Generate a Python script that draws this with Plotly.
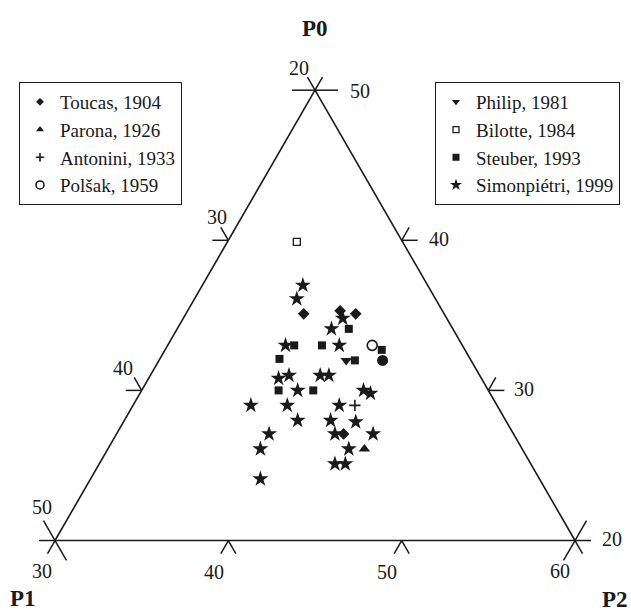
import math
import plotly.graph_objects as go

FIG_W, FIG_H = 631, 612
FONT = "Liberation Serif, Times New Roman, serif"
INK = "#1a1a1a"

# ---------------- data (P0, P1, P2 in %) ----------------
toucas_p0 = [35.1, 35.3, 35.1, 27.1]
toucas_p1 = [28.1, 25.9, 25.1, 29.8]
toucas_p2 = [36.8, 38.8, 39.8, 43.1]

parona_p0 = [26.1]
parona_p1 = [29.1]
parona_p2 = [44.8]

antonini_p0 = [29.0]
antonini_p1 = [28.2]
antonini_p2 = [42.8]

polsak_p0 = [33.0]
polsak_p1 = [25.2]
polsak_p2 = [41.8]

extra_p0 = [32.0]
extra_p1 = [25.1]
extra_p2 = [42.9]

philip_p0 = [32.0]
philip_p1 = [27.2]
philip_p2 = [40.8]

bilotte_p0 = [39.9]
bilotte_p1 = [26.1]
bilotte_p2 = [34.0]

steuber_p0 = [34.1, 33.0, 33.0, 32.7, 32.1, 32.0, 30.0, 30.0]
steuber_p1 = [26.0, 29.7, 28.1, 24.8, 31.0, 26.7, 32.1, 30.1]
steuber_p2 = [39.9, 37.3, 38.9, 42.5, 36.9, 41.3, 37.9, 39.9]

simon_p0 = [37.0, 36.1, 34.8, 34.1, 33.0, 33.0, 30.8, 31.0, 31.0, 31.0,
            30.0, 30.0, 29.8, 29.0, 29.0, 29.0, 28.0, 28.0, 27.9, 27.1,
            27.1, 27.1, 26.1, 26.1, 25.1, 25.1, 24.1]
simon_p1 = [27.2, 28.0, 26.0, 27.0, 30.2, 27.1, 31.7, 31.0, 29.2, 28.7,
            31.0, 27.2, 26.9, 34.2, 32.1, 29.1, 32.0, 30.1, 28.7, 34.1,
            30.3, 28.1, 35.1, 30.0, 31.3, 30.7, 36.1]
simon_p2 = [35.8, 35.9, 39.2, 38.9, 36.8, 39.9, 37.5, 38.0, 39.8, 40.3,
            39.0, 42.8, 43.3, 36.8, 38.9, 41.9, 40.0, 41.9, 43.4, 38.8,
            42.6, 44.8, 38.8, 43.9, 43.6, 44.2, 39.8]

# axis ranges / ticks
P0_MIN, P1_MIN, P2_MIN, TOTAL = 20, 20, 30, 100
p1_ticks = [20, 30, 40, 50]   # left edge
p0_ticks = [50, 40, 30, 20]   # right edge
p2_ticks = [30, 40, 50, 60]   # bottom edge

# ---------------- geometry of the triangle ----------------
X0, TRI_W = 55.0, 520.0
TRI_H = TRI_W * math.sqrt(3) / 2
YC = 315.35
YB = YC + TRI_H / 2
SPAN = TOTAL - P0_MIN - P1_MIN - P2_MIN


def tern_px(p0, p1, p2):
    f0 = (p0 - P0_MIN) / SPAN
    f2 = (p2 - P2_MIN) / SPAN
    return X0 + TRI_W * (f2 + f0 / 2), YB - TRI_H * f0


def px2paper(x, y):
    return x / FIG_W, 1 - y / FIG_H


fig = go.Figure()


def add(name, a, b, c, symbol, size, legend, lsize, color=INK, lw=0, showleg=True):
    fig.add_trace(go.Scatterternary(
        a=a, b=b, c=c, mode="markers", showlegend=False, name=name,
        marker=dict(symbol=symbol, size=size, color=color,
                    line=dict(width=lw, color=INK)),
        cliponaxis=False, hoverinfo="skip"))
    if showleg:
        fig.add_trace(go.Scatterternary(
            a=[None], b=[None], c=[None], mode="markers", name=name,
            legend=legend, showlegend=True,
            marker=dict(symbol=symbol, size=lsize, color=color,
                        line=dict(width=lw, color=INK))))


add("Toucas, 1904", toucas_p0, toucas_p1, toucas_p2, "diamond", 9, "legend", 6)
add("Parona, 1926", parona_p0, parona_p1, parona_p2, "triangle-up", 10, "legend", 7)
add("Antonini, 1933", antonini_p0, antonini_p1, antonini_p2, "cross-thin", 8, "legend", 6, lw=1.6)
add("Polšak, 1959", polsak_p0, polsak_p1, polsak_p2, "circle-open", 10, "legend", 8, lw=1.6)
add("", extra_p0, extra_p1, extra_p2, "circle", 11, "legend", 8, showleg=False)
add("Philip, 1981", philip_p0, philip_p1, philip_p2, "triangle-down", 10, "legend2", 7)
add("Bilotte, 1984", bilotte_p0, bilotte_p1, bilotte_p2, "square-open", 7, "legend2", 6, lw=1.3)
add("Steuber, 1993", steuber_p0, steuber_p1, steuber_p2, "square", 8, "legend2", 7)
add("Simonpiétri, 1999", simon_p0, simon_p1, simon_p2, "star", 12, "legend2", 9)

axis_common = dict(showgrid=False, ticks="", showticklabels=False,
                   showline=True, linecolor=INK, linewidth=1.6,
                   title=dict(text=""))

cx = (X0 + TRI_W / 2) / FIG_W
half_w = TRI_W / 2 / FIG_W
cy = 1 - YC / FIG_H
half_h = (TRI_H / 2 + 30) / FIG_H

LEG_FONT = dict(family=FONT, size=19, color=INK)

fig.update_layout(
    width=FIG_W, height=FIG_H,
    margin=dict(l=0, r=0, t=0, b=0),
    paper_bgcolor="white",
    font=dict(family=FONT, size=20, color=INK),
    ternary=dict(
        sum=TOTAL,
        domain=dict(x=[cx - half_w, cx + half_w], y=[cy - half_h, cy + half_h]),
        bgcolor="white",
        aaxis=dict(min=P0_MIN, **axis_common),
        baxis=dict(min=P1_MIN, **axis_common),
        caxis=dict(min=P2_MIN, **axis_common),
    ),
    legend=dict(x=19 / FIG_W, y=1 - 82 / FIG_H, xanchor="left", yanchor="top",
                bordercolor=INK, borderwidth=1, bgcolor="white",
                font=LEG_FONT, itemsizing="trace"),
    legend2=dict(x=435 / FIG_W, y=1 - 82 / FIG_H, xanchor="left", yanchor="top",
                 bordercolor=INK, borderwidth=1, bgcolor="white",
                 font=LEG_FONT, itemsizing="trace"),
)

# ---------------- tick marks (drawn as shapes) ----------------
S3 = math.sqrt(3) / 2
DIRS = {"L": (-1, 0), "R": (1, 0), "UL": (-0.5, -S3), "UR": (0.5, -S3),
        "DL": (-0.5, S3), "DR": (0.5, S3)}
shapes = []


def seg(x, y, d, length):
    dx, dy = DIRS[d]
    x0, y0 = px2paper(x, y)
    x1, y1 = px2paper(x + dx * length, y + dy * length)
    shapes.append(dict(type="line", xref="paper", yref="paper",
                       x0=x0, y0=y0, x1=x1, y1=y1,
                       line=dict(color=INK, width=1.5)))


TL, VL, XL = 16, 15, 23
top = tern_px(50, 20, 30)
bl = tern_px(20, 50, 30)
br = tern_px(20, 20, 60)
# vertices
seg(*top, "L", XL); seg(*top, "R", XL); seg(*top, "UL", VL); seg(*top, "UR", VL)
seg(*bl, "L", TL); seg(*bl, "DL", VL); seg(*bl, "UL", XL); seg(*bl, "DR", XL)
seg(*br, "R", TL); seg(*br, "DR", VL); seg(*br, "UR", XL); seg(*br, "DL", XL)
# interior ticks
for v in [30, 40]:
    p = tern_px(TOTAL - P2_MIN - v, v, P2_MIN)  # left edge, P1 = v
    seg(*p, "L", TL); seg(*p, "UL", VL)
for v in [40, 30]:
    p = tern_px(v, P1_MIN, TOTAL - P1_MIN - v)  # right edge, P0 = v
    seg(*p, "R", TL); seg(*p, "UR", VL)
for v in [40, 50]:
    p = tern_px(P0_MIN, TOTAL - P0_MIN - v, v)  # bottom edge, P2 = v
    seg(*p, "DL", VL); seg(*p, "DR", VL)

# ---------------- tick labels ----------------
annotations = []


def label(text, x, y, dx, dy, size=20, bold=False, xanchor="center"):
    px, py = px2paper(x + dx, y + dy)
    annotations.append(dict(text=f"<b>{text}</b>" if bold else text,
                            x=px, y=py, xref="paper", yref="paper",
                            xanchor=xanchor, yanchor="middle", showarrow=False,
                            font=dict(family=FONT, size=size, color=INK)))


left_offsets = [(-16, -22), (-11, -23.5), (-19, -22), (-13, -34)]
for v, (dx, dy) in zip(p1_ticks, left_offsets):
    p = tern_px(TOTAL - P2_MIN - v, v, P2_MIN)
    label(str(v), *p, dx, dy)

right_offsets = [(33, 0.5), (25, -1), (24, -1), (25, -2)]
for v, (dx, dy) in zip(p0_ticks, right_offsets):
    p = tern_px(v, P1_MIN, TOTAL - P1_MIN - v)
    label(str(v), *p, dx, dy, xanchor="left")

bottom_offsets = [(-13.3, 30), (-14.3, 31), (-15, 31), (-15, 30)]
for v, (dx, dy) in zip(p2_ticks, bottom_offsets):
    p = tern_px(P0_MIN, TOTAL - P0_MIN - v, v)
    label(str(v), *p, dx, dy)

# axis titles
label("P0", *top, 0, -62, size=23, bold=True)
label("P1", *bl, -32, 58, size=23, bold=True)
label("P2", *br, 55, 59, size=23, bold=True, xanchor="right")

fig.update_layout(shapes=shapes, annotations=annotations)

fig.write_html("out.html")
